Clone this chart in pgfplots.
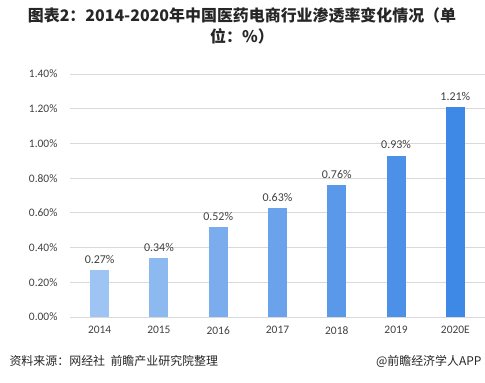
\documentclass[border=0pt]{standalone}
\usepackage{fontspec}
\setmainfont{Carlito}
\newfontfamily\cjk{Noto Sans CJK SC}
\usepackage{pgfplots}
\pgfplotsset{compat=1.18}
\definecolor{c1}{RGB}{158,196,244}
\definecolor{c2}{RGB}{141,185,241}
\definecolor{c3}{RGB}{123,173,238}
\definecolor{c4}{RGB}{106,162,236}
\definecolor{c5}{RGB}{90,152,234}
\definecolor{c6}{RGB}{76,144,232}
\definecolor{c7}{RGB}{62,137,230}
\definecolor{gridc}{RGB}{217,217,217}
\definecolor{txt}{RGB}{64,64,64}
\begin{document}
\begin{tikzpicture}
\path[use as bounding box] (0,0) rectangle (485bp,383bp);
\node[align=center, font=\cjk\bfseries\fontsize{16}{21}\selectfont, text=black!85] at (242bp,357bp) {图表2：2014-2020年中国医药电商行业渗透率变化情况（单\\位：\%）};
\begin{axis}[
  at={(70bp,66bp)}, anchor=south west,
  scale only axis, width=415bp, height=243bp,
  xmin=-0.5, xmax=6.5, ymin=0, ymax=1.4,
  axis line style={draw=none},
  ymajorgrids, grid style={gridc, line width=0.8pt},
  ytick={0,0.2,0.4,0.6,0.8,1.0,1.2,1.4},
  yticklabels={0.00\%,0.20\%,0.40\%,0.60\%,0.80\%,1.00\%,1.20\%,1.40\%},
  xtick={0,1,2,3,4,5,6},
  xticklabels={2014,2015,2016,2017,2018,2019,2020E},
  major tick length=0pt,
  tick style={draw=none},
  tick label style={font=\fontsize{11.5}{13}\selectfont, text=txt},
  yticklabel style={xshift=-9bp},
  xticklabel style={yshift=-6bp},
  /pgf/number format/assume math mode=true,
  ybar, bar width=19bp, bar shift=0pt,
  nodes near coords={\pgfmathprintnumber[fixed,fixed zerofill,precision=2]{\pgfplotspointmeta}\%},
  nodes near coords style={font=\fontsize{12}{14}\selectfont, text=txt, yshift=3bp},
  clip=false,
]
\addplot[fill=c1, draw=none] coordinates {(0,0.27)};
\addplot[fill=c2, draw=none] coordinates {(1,0.34)};
\addplot[fill=c3, draw=none] coordinates {(2,0.52)};
\addplot[fill=c4, draw=none] coordinates {(3,0.63)};
\addplot[fill=c5, draw=none] coordinates {(4,0.76)};
\addplot[fill=c6, draw=none] coordinates {(5,0.93)};
\addplot[fill=c7, draw=none] coordinates {(6,1.21)};
\end{axis}
\node[anchor=west, font=\cjk\fontsize{12}{14}\selectfont, text=black!85] at (6bp,22bp) {资料来源：网经社\ \ 前瞻产业研究院整理};
\node[anchor=east, font=\cjk\fontsize{12}{14}\selectfont, text=black!85] at (485bp,22bp) {@前瞻经济学人APP};
\end{tikzpicture}
\end{document}
